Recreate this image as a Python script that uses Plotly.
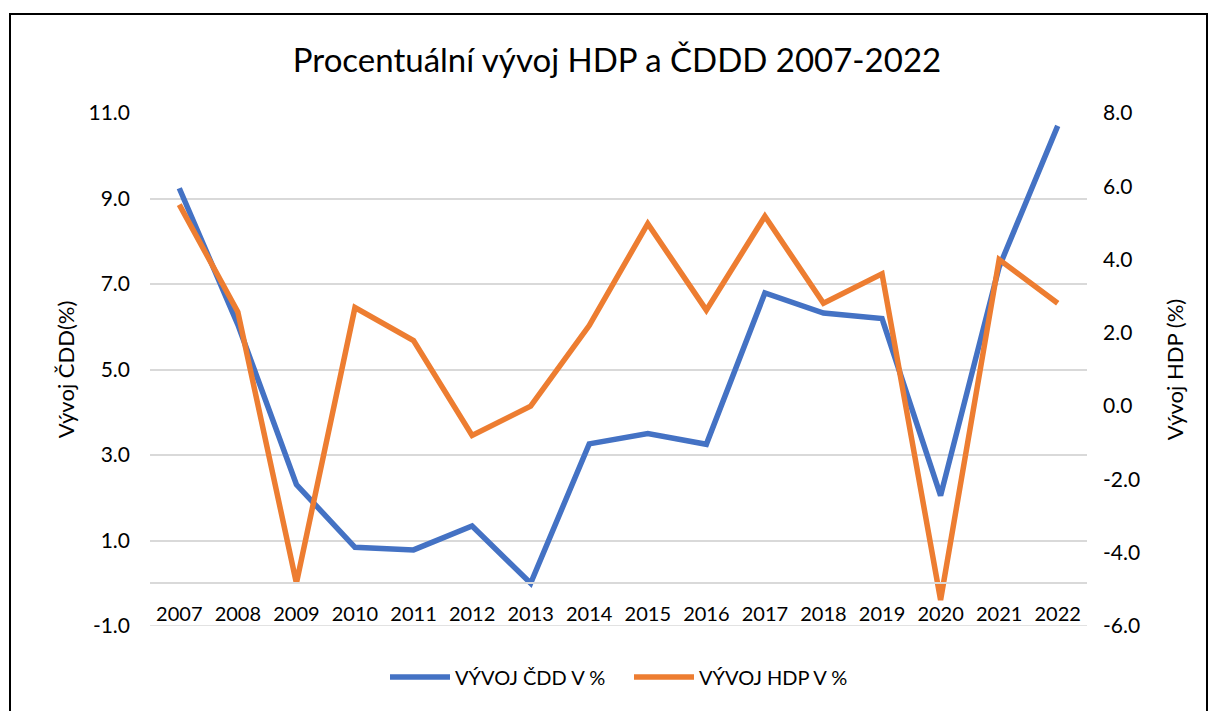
import plotly.graph_objects as go

years = ["2007", "2008", "2009", "2010", "2011", "2012", "2013", "2014",
         "2015", "2016", "2017", "2018", "2019", "2020", "2021", "2022"]
cdd_pct = [9.24, 6.05, 2.31, 0.84, 0.78, 1.34, 0.0, 3.26,
           3.50, 3.25, 6.79, 6.32, 6.19, 2.05, 7.40, 10.70]
hdp_pct = [5.50, 2.57, -4.83, 2.69, 1.79, -0.80, 0.0, 2.20,
           4.98, 2.62, 5.18, 2.81, 3.61, -5.29, 4.00, 2.81]

left_ticks = [-1, 1, 3, 5, 7, 9, 11]
left_tick_text = ["-1.0", "1.0", "3.0", "5.0", "7.0", "9.0", "11.0"]
right_ticks = [-6, -4, -2, 0, 2, 4, 6, 8]
right_tick_text = ["-6.0", "-4.0", "-2.0", "0.0", "2.0", "4.0", "6.0", "8.0"]

title_text = "Procentuální vývoj HDP a ČDDD 2007-2022"
left_title = "Vývoj ČDD(%)"
right_title = "Vývoj HDP (%)"
name_cdd = "VÝVOJ ČDD V %"
name_hdp = "VÝVOJ HDP V %"

FONT = "Lato"
BLUE = "#4472C4"
ORANGE = "#ED7D31"
GRID = "#D9D9D9"

W, H = 1210, 711
L, R, T, B = 150, 123, 113, 85
pw, ph = W - L - R, H - T - B

def px_x(px):
    return (px - L) / pw

def px_y(py):
    return (H - B - py) / ph

fig = go.Figure()
fig.add_trace(go.Scatter(x=years, y=cdd_pct, name=name_cdd, mode="lines",
                         line=dict(color=BLUE, width=5.5), yaxis="y"))
fig.add_trace(go.Scatter(x=years, y=hdp_pct, name=name_hdp, mode="lines",
                         line=dict(color=ORANGE, width=5.5), yaxis="y2"))

fig.update_layout(
    width=W, height=H,
    margin=dict(l=L, r=R, t=T, b=B, autoexpand=False),
    paper_bgcolor="white", plot_bgcolor="white",
    font=dict(family=FONT, color="#000000", size=20),
    title=dict(text=title_text, x=px_x(617), xref="paper", xanchor="center",
               y=1 - 60 / H, yanchor="middle",
               font=dict(family=FONT, size=33, color="#000000")),
    xaxis=dict(type="category", anchor="free", position=1 / 12,
               range=[-0.5, len(years) - 0.5],
               showline=True, linecolor=GRID, linewidth=1.5,
               showgrid=False, zeroline=False, ticks="",
               tickfont=dict(size=20), ticklabelstandoff=13),
    yaxis=dict(range=[-1, 11], tickvals=left_ticks, ticktext=left_tick_text,
               showgrid=True, gridcolor=GRID, gridwidth=1.5,
               zeroline=False, showline=False, ticks="",
               tickfont=dict(size=21), ticklabelstandoff=19,
               title=dict(text=left_title, font=dict(size=22), standoff=7)),
    yaxis2=dict(range=[-6, 8], tickvals=right_ticks, ticktext=right_tick_text,
                overlaying="y", side="right", showgrid=False, zeroline=False,
                showline=False, ticks="", tickfont=dict(size=21),
                ticklabelstandoff=15,
                title=dict(text=right_title, font=dict(size=22), standoff=28)),
    legend=dict(orientation="h", x=px_x(629), xanchor="center",
                y=px_y(677), yanchor="middle", font=dict(size=20),
                itemwidth=60, entrywidth=169, bgcolor="rgba(0,0,0,0)"),
    showlegend=True,
)

# bottom gridline at -1 and chart-area border
fig.add_shape(type="line", xref="paper", yref="y", x0=0, x1=1, y0=-1, y1=-1,
              line=dict(color=GRID, width=1.5), layer="below")
fig.add_shape(type="rect", xref="paper", yref="paper",
              x0=px_x(10), x1=px_x(1207), y0=px_y(740), y1=px_y(14),
              line=dict(color="#000000", width=2), fillcolor="rgba(0,0,0,0)")

fig.write_html("out.html", config={"displayModeBar": False},
               post_script="document.body.style.margin='0';document.body.style.overflow='hidden';")
